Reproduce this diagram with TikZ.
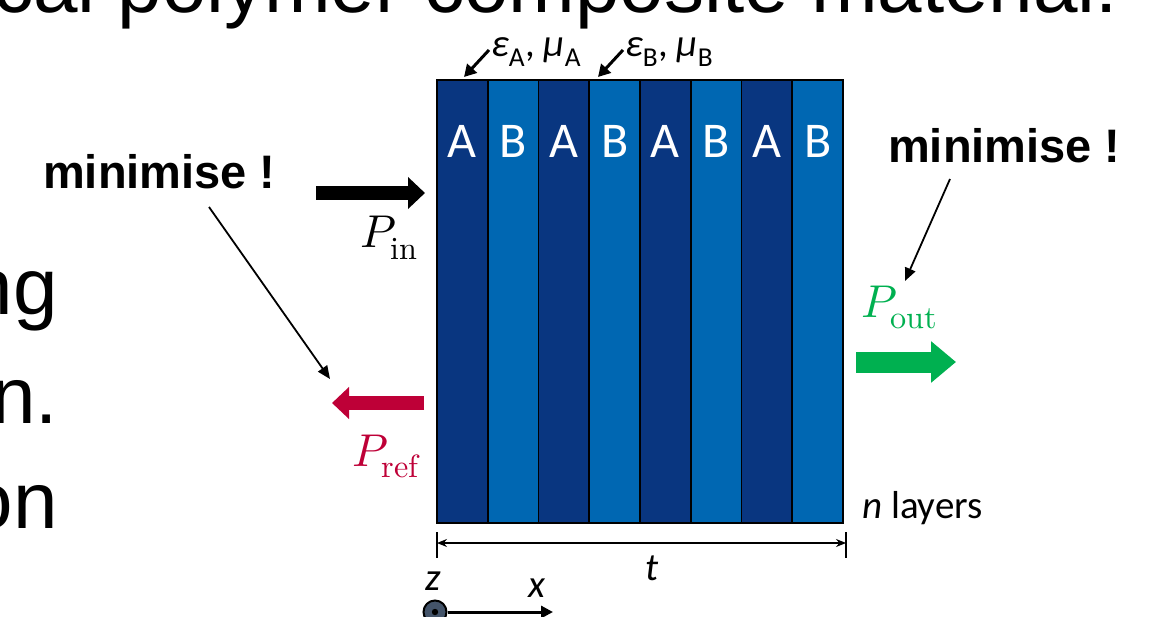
\documentclass[tikz,border=0pt]{standalone}
\usepackage{fontspec}
\usepackage{unicode-math}
\setmainfont{Liberation Sans}
\setmathfont{Latin Modern Math}
\newfontfamily\calib{Carlito}
\usetikzlibrary{arrows.meta,positioning}
\definecolor{layA}{RGB}{9,54,128}
\definecolor{layB}{RGB}{0,103,178}
\definecolor{refred}{RGB}{190,0,55}
\definecolor{outgreen}{RGB}{0,176,80}
\definecolor{axgray}{RGB}{68,84,106}

\begin{document}
\begin{tikzpicture}[x=1pt, y=-1pt,
  slab/.style={draw=black, line width=1.8pt, minimum width=50.75pt, minimum height=443pt, inner sep=0pt, outer sep=0pt, anchor=north west},
  lettr/.style={text=white, font=\calib\fontsize{50}{50}\selectfont, inner sep=0pt},
  bigtxt/.style={font=\fontsize{80}{80}\selectfont, inner sep=0pt, anchor=base east},
  minim/.style={font=\bfseries\fontsize{47}{47}\selectfont, inner sep=0pt, anchor=base west},
  plab/.style={font=\fontsize{46}{46}\selectfont, inner sep=0pt},
  clab/.style={font=\calib\fontsize{39}{39}\selectfont, inner sep=0pt, anchor=base west},
  fat/.style={line width=14pt, -{Triangle[length=17pt, width=31pt]}},
  thin/.style={line width=1.8pt, -{Triangle[length=13pt, width=11pt]}},
  mid/.style={line width=3pt, -{Triangle[length=12pt, width=13pt]}}]
\useasboundingbox (0,0) rectangle (1169,617);
\begin{scope}
\clip (0,0) rectangle (1169,617);
\node[bigtxt, anchor=base west] (title) at (-7,13) {cal polymer composite material:};
\node[bigtxt] (ln1) at (58,315) {ng};
\node[bigtxt] (ln2) at (58,423) {n.};
\node[bigtxt] (ln3) at (58,528) {on};
\end{scope}
% the stack of layers
\foreach \i/\m in {1/A,2/B,3/A,4/B,5/A,6/B,7/A,8/B} {
  \node[slab, fill=lay\m] (L\i) at ({437+(\i-1)*50.75}, 80) {};
  \node[lettr] (T\i) at ([yshift=-61pt]L\i.north) {\m};
}
% material parameters
\node[clab] (eA) at (491,57) {{\itshape ε}\textsubscript{A}, {\itshape μ}\textsubscript{A}};
\node[clab] (eB) at (625,57) {{\itshape ε}\textsubscript{B}, {\itshape μ}\textsubscript{B}};
\coordinate (eAs) at (489,50);
\coordinate (eBs) at (623,50);
\draw[mid] (eAs) -- (464,77);
\draw[mid] (eBs) -- (598,77);
% powers
\coordinate (inS) at (316,193);
\coordinate (inE) at (425,193);
\draw[fat] (inS) -- (inE);
\node[plab, anchor=base east] (Pin) at (418,248) {$P_{\symup{in}}$};
\coordinate (refS) at (424,403);
\coordinate (refE) at (332,403);
\draw[fat, refred] (refS) -- (refE);
\node[plab, anchor=base east, text=refred] (Pref) at (422,466) {$P_{\symup{ref}}$};
\coordinate (outS) at (856,362);
\coordinate (outE) at (956,362);
\draw[outgreen, line width=21pt, -{Triangle[length=25pt, width=40pt]}] (outS) -- (outE);
\node[plab, anchor=base west, text=outgreen] (Pout) at (861,317) {$P_{\symup{out}}$};
% minimise
\node[minim] (minL) at (43,189) {minimise !};
\node[minim] (minR) at (888,163) {minimise !};
\coordinate (mLs) at (209,207);
\coordinate (mLe) at (330,379);
\coordinate (mRs) at (950,179);
\coordinate (mRe) at (905,281);
\draw[thin] (mLs) -- (mLe);
\draw[thin] (mRs) -- (mRe);
% thickness
\node[clab] (nlay) at (862,518) {{\itshape n} layers};
\coordinate (tk1a) at (437,532);
\coordinate (tk1b) at (437,558);
\coordinate (tk2a) at (846,532);
\coordinate (tk2b) at (846,558);
\draw[line width=1.2pt] (tk1a) -- (tk1b);
\draw[line width=1.2pt] (tk2a) -- (tk2b);
\draw[line width=1.2pt, {Stealth[length=10pt, width=8pt]}-{Stealth[length=10pt, width=8pt]}] (437,543) -- (846,543);
\node[clab, anchor=base] (tlab) at (652,580) {\itshape t};
% axes
\node[draw=black, line width=2pt, fill=axgray, circle, minimum size=23pt, inner sep=0pt] (zax) at (435,612) {};
\fill[black] (zax.center) circle (3.2pt);
\coordinate (xend) at (553,612);
\draw[line width=3pt, -{Triangle[length=12pt, width=12pt]}] (zax.east) -- (xend);
\node[clab, anchor=base] (zlab) at (433,590) {\itshape z};
\node[clab, anchor=base] (xlab) at (537,597) {\itshape x};
\end{tikzpicture}
\end{document}
